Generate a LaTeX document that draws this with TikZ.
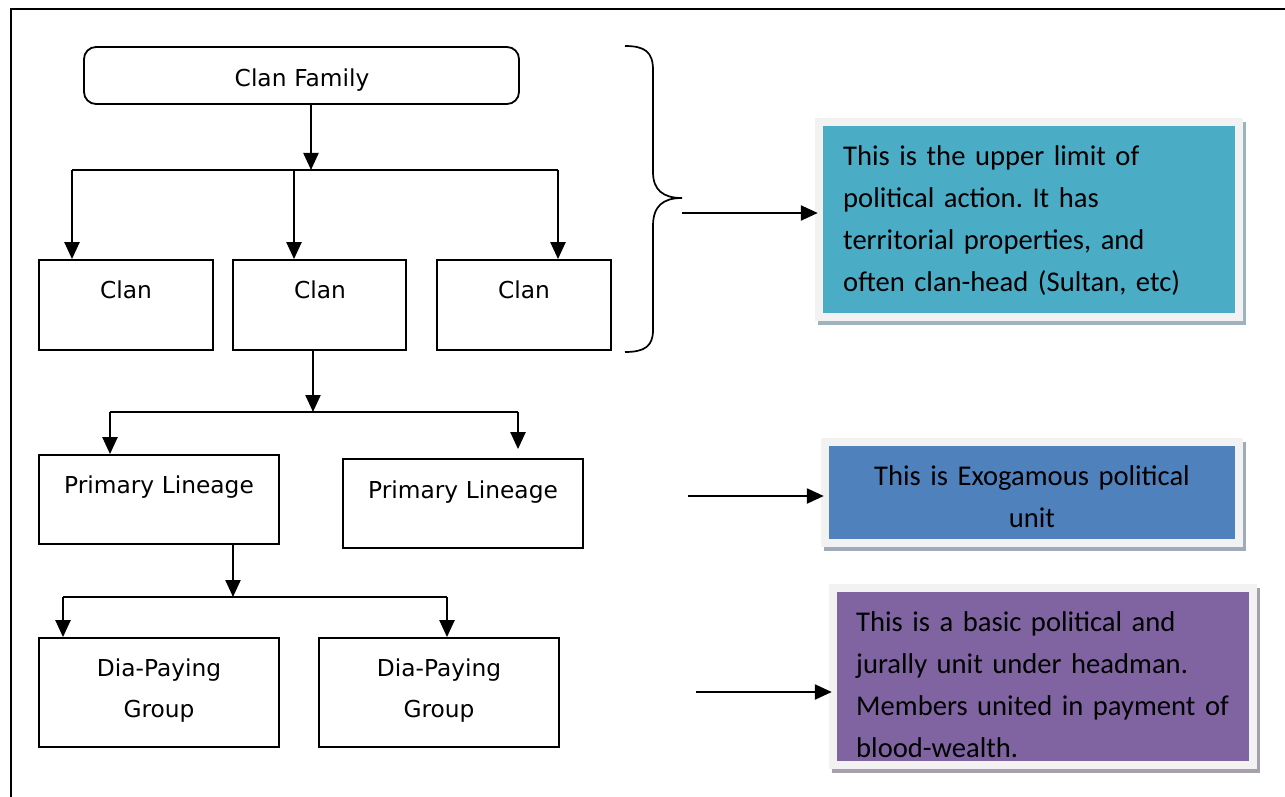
\documentclass[tikz,border=0pt]{standalone}
\usepackage{fontspec}
\setmainfont{DejaVu Sans}
\newfontfamily\notefont{Carlito}
\usetikzlibrary{arrows.meta,calc,shadows}

\definecolor{aquafill}{HTML}{4BACC6}
\definecolor{bluefill}{HTML}{4F81BD}
\definecolor{violetfill}{HTML}{8064A2}
\definecolor{noteframe}{HTML}{F2F2F2}
\definecolor{aquashade}{HTML}{9DB4BF}
\definecolor{blueshade}{HTML}{A0AABA}
\definecolor{violetshade}{HTML}{A6A0AD}

\begin{document}
\frenchspacing
\begin{tikzpicture}[x=1pt,y=-1pt,
  box/.style={draw, line width=1.8pt, inner sep=0pt},
  label/.style={font=\fontsize{23.3}{41}\selectfont, anchor=base, inner sep=0pt, align=center, text width=230pt},
  arr/.style={line width=2.3pt, -{Triangle[length=17pt,width=15pt]}},
  bus/.style={line width=2.3pt},
  note/.style n args={2}{inner sep=0pt, fill=noteframe,
    general shadow={fill=#2, shadow xshift=3pt, shadow yshift=-4pt},
    path picture={\fill[#1] ([xshift=8pt,yshift=-8pt]path picture bounding box.north west)
      rectangle ([xshift=-8pt,yshift=8pt]path picture bounding box.south east);}},
  notetext/.style={font=\notefont\fontsize{28.6}{42}\selectfont\frenchspacing, inner sep=0pt, text width=400pt}]
\useasboundingbox (0,0) rectangle (1285,797);

% page frame
\draw[line width=2.4pt] (11,800) -- (11,9) -- (1290,9);

% hierarchy boxes
\node[box, rounded corners=12pt, minimum width=435pt, minimum height=57pt] (cf) at (301.5,75.5) {};
\node[box, minimum width=174pt, minimum height=90pt] (clanA) at (126,305) {};
\node[box, minimum width=173pt, minimum height=90pt] (clanB) at (319.5,305) {};
\node[box, minimum width=174pt, minimum height=90pt] (clanC) at (524,305) {};
\node[box, minimum width=240pt, minimum height=89pt] (plA) at (159,499.5) {};
\node[box, minimum width=240pt, minimum height=89pt] (plB) at (463,503.5) {};
\node[box, minimum width=240pt, minimum height=109pt] (dpA) at (159,692.5) {};
\node[box, minimum width=240pt, minimum height=109pt] (dpB) at (439,692.5) {};

% box labels
\node[label] (cfT) at (302,86.5) {Clan Family};
\node[label] (clanAT) at (126,298.5) {Clan};
\node[label] (clanBT) at (320,298.5) {Clan};
\node[label] (clanCT) at (524,298.5) {Clan};
\node[label] (plAT) at (159,493) {Primary Lineage};
\node[label] (plBT) at (463,498) {Primary Lineage};
\node[label] (dpAT) at (159,676) {Dia-Paying\\Group};
\node[label] (dpBT) at (439,676) {Dia-Paying\\Group};

% level 1: clan family to clans
\coordinate (j1) at (311,170);
\coordinate (b1L) at (72,170);
\coordinate (b1M) at (294,170);
\coordinate (b1R) at (558,170);
\draw[arr] (cf.south -| j1) -- (j1);
\draw[bus] (b1L) -- (b1R);
\draw[arr] (b1L) -- (b1L |- clanA.north);
\draw[arr] (b1M) -- (b1M |- clanB.north);
\draw[arr] (b1R) -- (b1R |- clanC.north);

% level 2: clan to primary lineages
\coordinate (j2) at (313,412);
\coordinate (b2L) at (110,412);
\coordinate (b2R) at (518,412);
\draw[arr] (clanB.south -| j2) -- (j2);
\draw[bus] (b2L) -- (b2R);
\draw[arr] (b2L) -- (b2L |- plA.north);
\draw[arr] (b2R) -- ($(b2R |- plB.north)+(0,-9)$);

% level 3: primary lineage to dia-paying groups
\coordinate (j3) at (233,597);
\coordinate (b3L) at (63,597);
\coordinate (b3R) at (447,597);
\draw[arr] (plA.south -| j3) -- (j3);
\draw[bus] (b3L) -- (b3R);
\draw[arr] (b3L) -- (b3L |- dpA.north);
\draw[arr] (b3R) -- (b3R |- dpB.north);

% brace over the clan level
\coordinate (brTop) at (625,46);
\coordinate (brTip) at (682,198);
\coordinate (brBot) at (625,352);
\draw[line width=1.7pt] (brTop) .. controls (645,46) and (653,52) .. (653,70) -- (653,172)
  .. controls (653,190) and (663,198) .. (brTip)
  .. controls (663,198) and (653,206) .. (653,226) -- (653,330)
  .. controls (653,346) and (645,352) .. (brBot);

% explanatory notes
\node[note={aquafill}{aquashade}, minimum width=428pt, minimum height=203pt] (cy) at (1029,219.5) {};
\node[note={bluefill}{blueshade}, minimum width=422pt, minimum height=109pt] (bl) at (1032,492.5) {};
\node[note={violetfill}{violetshade}, minimum width=428pt, minimum height=185pt] (pu) at (1043,676.5) {};

\node[notetext, anchor=base west, align=left] (cyT) at (843,165)
  {This is the upper limit of\\political action. It has\\territorial properties, and\\often clan-head (Sultan, etc)};
\node[notetext, anchor=base, align=center] (blT) at (1032,485)
  {This is Exogamous political\\unit};
\begin{scope}
  \clip (837,592) rectangle (1249,762);
  \node[notetext, anchor=base west, align=left] (puT) at (856,631)
    {This is a basic political and\\jurally unit under headman.\\Members united in payment of\\blood-wealth.};
\end{scope}

% arrows to the notes
\coordinate (a1) at (682,213);
\coordinate (a2) at (688,496);
\coordinate (a3) at (696,692);
\draw[arr] (a1) -- ($(a1 -| cy.west)+(3,0)$);
\draw[arr] (a2) -- ($(a2 -| bl.west)+(3,0)$);
\draw[arr] (a3) -- ($(a3 -| pu.west)+(3,0)$);
\end{tikzpicture}
\end{document}
